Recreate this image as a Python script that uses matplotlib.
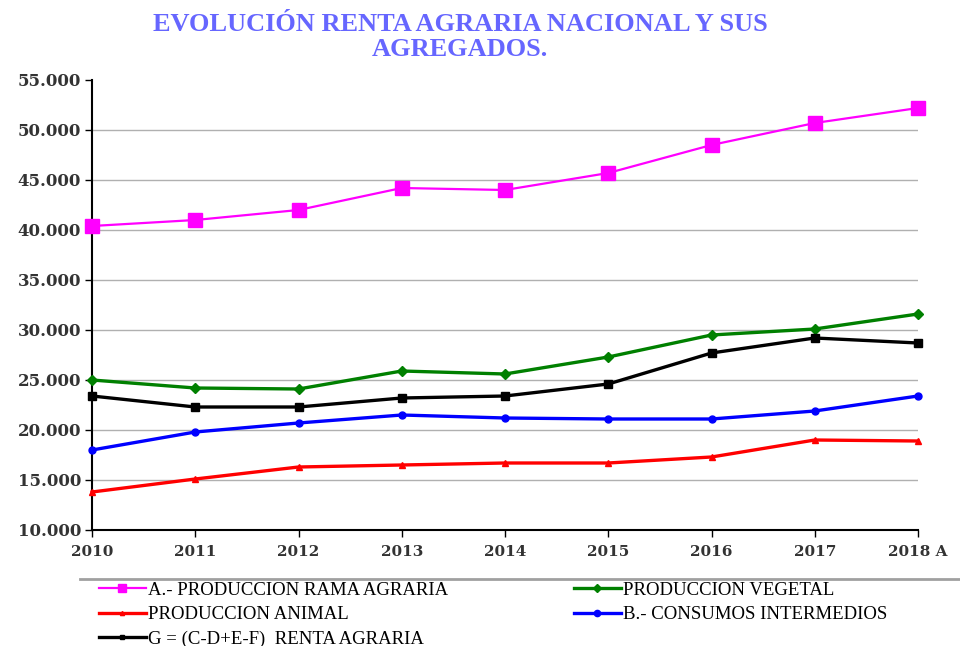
import matplotlib
matplotlib.use("Agg")
import matplotlib.pyplot as plt
from matplotlib.lines import Line2D

years = ["2010", "2011", "2012", "2013", "2014", "2015", "2016", "2017", "2018 A"]
prod_rama = [40400, 41000, 42000, 44200, 44000, 45700, 48500, 50700, 52200]
prod_vegetal = [25000, 24200, 24100, 25900, 25600, 27300, 29500, 30100, 31600]
prod_animal = [13800, 15100, 16300, 16500, 16700, 16700, 17300, 19000, 18900]
consumos = [18000, 19800, 20700, 21500, 21200, 21100, 21100, 21900, 23400]
renta = [23400, 22300, 22300, 23200, 23400, 24600, 27700, 29200, 28700]
y_ticks = [10000, 15000, 20000, 25000, 30000, 35000, 40000, 45000, 50000, 55000]
y_labels = ["10.000", "15.000", "20.000", "25.000", "30.000", "35.000", "40.000", "45.000", "50.000", "55.000"]

plt.rcParams['font.family'] = ['Liberation Serif', 'DejaVu Serif']

fig = plt.figure(figsize=(9.6, 6.46), dpi=100)
ax = fig.add_axes([92/960, 1-530/646, (918-92)/960, (530-80)/646])

x = list(range(len(years)))
l1, = ax.plot(x, prod_rama, color='#FF00FF', lw=1.6, marker='s', ms=10, label='A.- PRODUCCION RAMA AGRARIA', zorder=5, clip_on=False)
l2, = ax.plot(x, prod_vegetal, color='#008000', lw=2.4, marker='D', ms=5, label='PRODUCCION VEGETAL', zorder=4, clip_on=False)
l3, = ax.plot(x, prod_animal, color='#FF0000', lw=2.4, marker='^', ms=5, label='PRODUCCION ANIMAL', zorder=4, clip_on=False)
l4, = ax.plot(x, consumos, color='#0000FF', lw=2.4, marker='o', ms=5, label='B.- CONSUMOS INTERMEDIOS', zorder=4, clip_on=False)
l5, = ax.plot(x, renta, color='#000000', lw=2.4, marker='s', ms=6, label='G = (C-D+E-F)  RENTA AGRARIA', zorder=4, clip_on=False)

ax.set_xlim(0, len(years) - 1)
ax.set_ylim(10000, 55000)
ax.set_yticks(y_ticks)
ax.set_yticklabels(y_labels)
ax.set_xticks(x)
ax.set_xticklabels(years)
for lab in ax.get_yticklabels():
    lab.set_fontfamily(['DejaVu Serif'])
    lab.set_fontweight('bold')
    lab.set_fontsize(12)
    lab.set_color('#333333')
for lab in ax.get_xticklabels():
    lab.set_fontfamily(['DejaVu Serif'])
    lab.set_fontweight('bold')
    lab.set_fontsize(11)
    lab.set_color('#333333')
for yv in y_ticks[1:-1]:
    ax.axhline(yv, color='#B0B0B0', lw=1, zorder=1)
for s in ['top', 'right']:
    ax.spines[s].set_visible(False)
for s in ['left', 'bottom']:
    ax.spines[s].set_linewidth(1.5)
    ax.spines[s].set_color('black')
ax.tick_params(axis='both', length=5, width=1, pad=3)
ax.tick_params(axis='x', pad=6)

fig.text(460/960, 1-37/646, "EVOLUCIÓN RENTA AGRARIA NACIONAL Y SUS\nAGREGADOS.",
         ha='center', va='center', fontsize=19, fontweight='bold', color='#6666FF', linespacing=1.1)

# legend top border line
fig.add_artist(Line2D([80/960, 1.0], [1-579/646, 1-579/646], color='#A0A0A0', lw=2))

common = dict(loc='upper left', frameon=False, fontsize=13.5, handlelength=2.5, handletextpad=0.15,
              labelspacing=0.38, borderaxespad=0, borderpad=0.2)
leg1 = fig.legend(handles=[l1, l3, l5], bbox_to_anchor=(95/960, 1-578/646), markerscale=0.6, **common)
leg2 = fig.legend(handles=[l2, l4], bbox_to_anchor=(570/960, 1-578/646), markerscale=0.9, **common)

fig.savefig("out.png", dpi=100)
